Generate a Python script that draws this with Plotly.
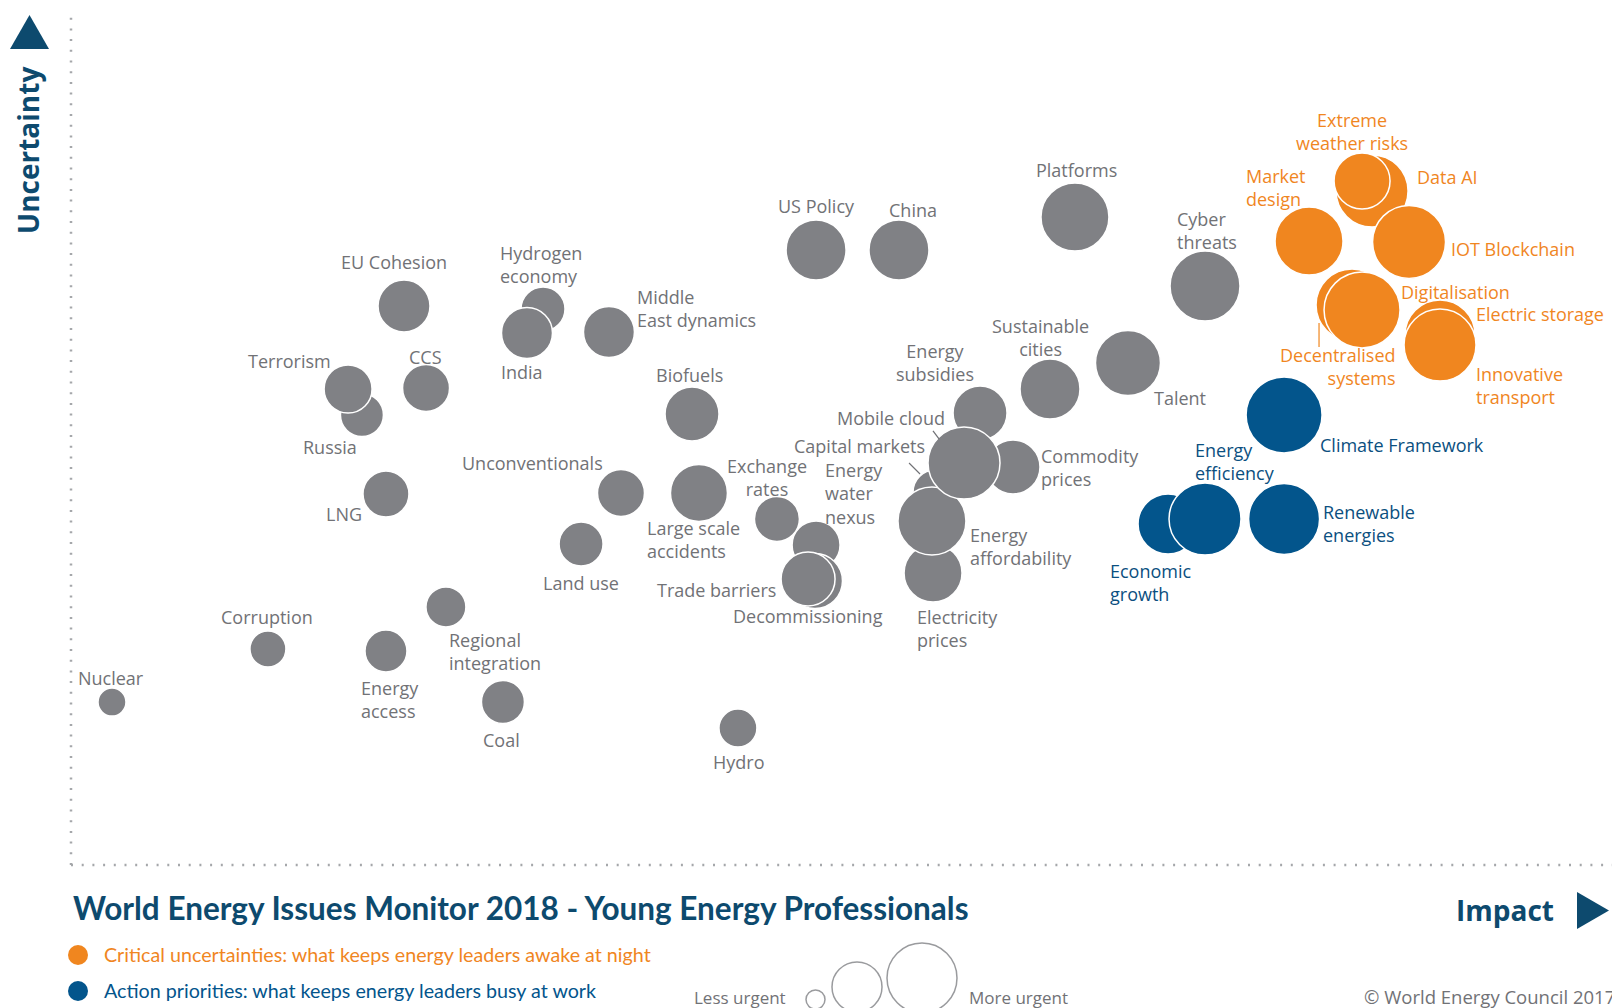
import plotly.graph_objects as go

# ---------------- data ----------------
gray_names = ["Nuclear", "Corruption", "Energy access", "Regional integration", "Coal", "Hydro",
              "LNG", "Russia", "Terrorism", "CCS", "EU Cohesion", "Hydrogen economy", "India",
              "Middle East dynamics", "Biofuels", "Unconventionals", "Large scale accidents",
              "Land use", "Exchange rates", "Energy water nexus", "Decommissioning", "Trade barriers",
              "US Policy", "China", "Platforms", "Cyber threats", "Talent", "Sustainable cities",
              "Electricity prices", "Capital markets", "Energy affordability", "Energy subsidies",
              "Commodity prices", "Mobile cloud"]
gray_impact = [2.66, 12.78, 20.44, 24.33, 28.03, 43.28, 20.44, 18.88, 17.98, 23.04, 21.61, 30.63,
               29.59, 34.91, 40.30, 35.69, 40.75, 33.10, 45.81, 48.35, 48.28, 47.83, 48.35, 53.73,
               65.15, 73.59, 68.59, 63.53, 55.94, 56.07, 55.87, 58.99, 61.13, 57.95]
gray_uncertainty = [19.06, 25.26, 25.03, 30.18, 19.06, 16.02, 43.39, 52.63, 55.67, 55.79, 65.38,
                    65.03, 62.22, 62.34, 52.75, 43.51, 43.51, 37.54, 40.47, 37.43, 33.22, 33.45,
                    71.93, 71.93, 75.79, 67.72, 58.71, 55.67, 34.15, 43.63, 40.23, 52.87, 46.55, 47.02]
gray_urgency = [2.8, 3.6, 4.2, 4.0, 4.3, 3.8, 4.6, 4.3, 4.8, 4.7, 5.2, 4.4, 5.1, 5.1, 5.4, 4.7, 5.7,
                4.4, 4.5, 4.8, 5.5, 5.4, 6.0, 6.0, 6.8, 7.0, 6.5, 6.0, 5.8, 4.4, 6.8, 5.4, 5.4, 7.2]

orange_names = ["Data AI", "Extreme weather risks", "Market design", "IOT Blockchain",
                "Decentralised systems", "Digitalisation", "Electric storage", "Innovative transport"]
orange_impact = [84.43, 83.78, 80.34, 86.83, 83.13, 83.78, 88.84, 88.84]
orange_uncertainty = [78.83, 80.00, 72.98, 72.87, 65.50, 64.91, 61.99, 60.82]
orange_urgency = [7.2, 5.6, 6.8, 7.3, 7.2, 7.6, 7.0, 7.2]

blue_names = ["Climate Framework", "Economic growth", "Energy efficiency", "Renewable energies"]
blue_impact = [78.72, 71.19, 73.59, 78.72]
blue_uncertainty = [52.63, 39.88, 40.47, 40.47]
blue_urgency = [7.6, 6.0, 7.2, 7.1]

label_text = {
    "Energy access": "Energy<br>access", "Regional integration": "Regional<br>integration",
    "Hydrogen economy": "Hydrogen<br>economy", "Middle East dynamics": "Middle<br>East dynamics",
    "Large scale accidents": "Large scale<br>accidents", "Exchange rates": "Exchange<br>rates",
    "Energy water nexus": "Energy<br>water<br>nexus", "Cyber threats": "Cyber<br>threats",
    "Sustainable cities": "Sustainable<br>cities", "Energy subsidies": "Energy<br>subsidies",
    "Commodity prices": "Commodity<br>prices", "Energy affordability": "Energy<br>affordability",
    "Electricity prices": "Electricity<br>prices", "Extreme weather risks": "Extreme<br>weather risks",
    "Market design": "Market<br>design", "Decentralised systems": "Decentralised<br>systems",
    "Innovative transport": "Innovative<br>transport", "Economic growth": "Economic<br>growth",
    "Energy efficiency": "Energy<br>efficiency", "Renewable energies": "Renewable<br>energies",
}

# ---------------- layout / style ----------------
PAGE_OFF = 8                       # default body margin of the html page
FIG_W, FIG_H = 1620 - PAGE_OFF, 1008 - PAGE_OFF
PLOT_X0, PLOT_X1, PLOT_Y0, PLOT_Y1 = 71, 1612, 10, 865   # plot area in page pixels
ML, MT = PLOT_X0 - PAGE_OFF, PLOT_Y0 - PAGE_OFF
MR, MB = 1620 - PLOT_X1, 1008 - PLOT_Y1
PW, PH = PLOT_X1 - PLOT_X0, PLOT_Y1 - PLOT_Y0
XMAX, YMAX = 100, 100

GRAY, ORANGE, BLUE = "#808185", "#F0861F", "#03558C"
GRAY_TXT, BLUE_TXT, NAVY = "#717276", "#0B4F80", "#0D4A6E"
LABEL_FONT = "Open Sans"
LABEL_SIZE = 18
ANCHOR_NUDGE = {"left": -2, "center": 0, "right": 2}

# label offsets in pixels from bubble centre: (dx, dy-down, anchor)
label_pos = {
    "Nuclear": (-34, -24, "left"), "Corruption": (-1, -32, "center"),
    "Energy access": (-25, 49, "left"), "Regional integration": (3, 45, "left"),
    "Coal": (-1, 38, "center"), "Hydro": (1, 34, "center"), "LNG": (-42, 20, "center"),
    "Terrorism": (-59, -28, "center"), "Russia": (-32, 32, "center"), "CCS": (-1, -31, "center"),
    "EU Cohesion": (-10, -44, "center"), "Hydrogen economy": (-43, -44, "left"),
    "India": (-5, 39, "center"), "Middle East dynamics": (28, -23, "left"),
    "Biofuels": (-3, -39, "center"), "Unconventionals": (-88, -30, "center"),
    "Large scale accidents": (-52, 47, "left"), "Land use": (0, 39, "center"),
    "Exchange rates": (-10, -41, "center"), "Energy water nexus": (9, -51, "left"),
    "Decommissioning": (-7, 35, "center"), "Trade barriers": (-92, 11, "center"),
    "US Policy": (0, -44, "center"), "China": (14, -40, "center"), "Platforms": (2, -47, "center"),
    "Cyber threats": (-28, -55, "left"), "Talent": (52, 35, "center"),
    "Sustainable cities": (-10, -52, "center"), "Energy subsidies": (-45, -50, "center"),
    "Commodity prices": (28, 0, "left"), "Capital markets": (-76, -46, "center"),
    "Energy affordability": (38, 25, "left"), "Electricity prices": (-16, 55, "left"),
    "Mobile cloud": (-73, -45, "center"),
    "Data AI": (45, -14, "left"), "Extreme weather risks": (-10, -50, "center"),
    "Market design": (-63, -54, "left"), "IOT Blockchain": (42, 7, "left"),
    "Decentralised systems": (44, 62, "right"), "Digitalisation": (39, -18, "left"),
    "Electric storage": (36, -21, "left"), "Innovative transport": (36, 41, "left"),
    "Climate Framework": (36, 30, "left"), "Economic growth": (-58, 58, "left"),
    "Energy efficiency": (-10, -57, "left"), "Renewable energies": (39, 5, "left"),
}
# leader lines: name -> ((dx0, dy0), (dx1, dy1)) pixel offsets from bubble centre
leaders = {
    "Mobile cloud": ((-31, -32), (-25, -24)),
    "Capital markets": ((-26, -29), (-15, -18)),
    "Decentralised systems": ((-33, 18), (-33, 42)),
}


def P(X, Y):
    """page pixel position -> paper coordinates"""
    return (X - PLOT_X0) / PW, (PLOT_Y1 - Y) / PH


fig = go.Figure()
groups = [
    (gray_names, gray_impact, gray_uncertainty, gray_urgency, GRAY, GRAY_TXT),
    (orange_names, orange_impact, orange_uncertainty, orange_urgency, ORANGE, ORANGE),
    (blue_names, blue_impact, blue_uncertainty, blue_urgency, BLUE, BLUE_TXT),
]
annotations = []
shapes = []
for names, xs, ys, us, col, tcol in groups:
    fig.add_trace(go.Scatter(
        x=xs, y=ys, mode="markers", text=names, hoverinfo="text",
        marker=dict(size=us, sizemode="diameter", sizeref=0.1, color=col,
                    opacity=1, line=dict(color="white", width=1.5)),
        cliponaxis=False, showlegend=False))
    for n, x, y in zip(names, xs, ys):
        dx, dy, anc = label_pos[n]
        annotations.append(dict(
            x=x, y=y, xref="x", yref="y", xshift=dx + ANCHOR_NUDGE[anc], yshift=-dy,
            xanchor=anc, yanchor="middle",
            align=anc, text=label_text.get(n, n), showarrow=False,
            font=dict(family=LABEL_FONT, size=LABEL_SIZE, color=tcol)))
        if n in leaders:
            (a0, b0), (a1, b1) = leaders[n]
            shapes.append(dict(type="line", xref="x", yref="y",
                               x0=x + a0 * XMAX / PW, y0=y - b0 * YMAX / PH,
                               x1=x + a1 * XMAX / PW, y1=y - b1 * YMAX / PH,
                               line=dict(color=tcol, width=1.2)))

# dotted axes
DOT = "2px,8.7px"
shapes.append(dict(type="line", xref="paper", yref="paper", x0=0, x1=0, y0=0, y1=1,
                   line=dict(color="#A5A7AA", width=2.5, dash=DOT)))
shapes.append(dict(type="line", xref="paper", yref="paper", x0=0, x1=1, y0=0, y1=0,
                   line=dict(color="#A5A7AA", width=2.5, dash=DOT)))


def tri(points, color):
    pts = [P(*p) for p in points]
    path = "M " + " L ".join(f"{a},{b}" for a, b in pts) + " Z"
    return dict(type="path", xref="paper", yref="paper", path=path,
                fillcolor=color, line=dict(width=0))


shapes.append(tri([(10, 49), (49, 49), (29.5, 15)], NAVY))
shapes.append(tri([(1577, 892), (1577, 929), (1609, 910.5)], NAVY))


def circ(cx, cy, r, fill=None, line=None):
    x0, y0 = P(cx - r, cy + r)
    x1, y1 = P(cx + r, cy - r)
    d = dict(type="circle", xref="paper", yref="paper", x0=x0, y0=y0, x1=x1, y1=y1)
    if fill:
        d["fillcolor"] = fill
        d["line"] = dict(width=0)
    else:
        d["line"] = dict(color=line, width=1.5)
    return d


shapes.append(circ(78, 955, 10, fill=ORANGE))
shapes.append(circ(78, 991, 10, fill=BLUE))
shapes.append(circ(815.5, 999.5, 9.5, line="#9A9B9E"))
shapes.append(circ(857, 987, 25, line="#9A9B9E"))
shapes.append(circ(922, 978, 35, line="#9A9B9E"))


def text_px(X, Y, txt, size, color, anchor="left", family=LABEL_FONT, weight="normal", angle=0):
    x, y = P(X, Y)
    annotations.append(dict(x=x, y=y, xref="paper", yref="paper", text=txt, showarrow=False,
                            xanchor=anchor, yanchor="middle", textangle=angle,
                            font=dict(family=family, size=size, color=color, weight=weight)))


text_px(71, 908, "World Energy Issues Monitor 2018 - Young Energy Professionals", 31.5, NAVY,
        family="Lato", weight="bold")
text_px(1556, 910, "Impact", 28, NAVY, anchor="right", weight="bold")
text_px(28, 151, "Uncertainty", 28, NAVY, anchor="center", weight="bold", angle=-90)
text_px(102, 955, "Critical uncertainties: what keeps energy leaders awake at night", 19.7, ORANGE,
        family="Lato")
text_px(102, 990, "Action priorities: what keeps energy leaders busy at work", 19.7, BLUE,
        family="Lato")
text_px(788, 998, "Less urgent", 17, GRAY_TXT, anchor="right")
text_px(967, 998, "More urgent", 17, GRAY_TXT)
text_px(1617, 996, "© World Energy Council 2017", 18.5, GRAY_TXT, anchor="right")

fig.update_layout(
    width=FIG_W, height=FIG_H, margin=dict(l=ML, r=MR, t=MT, b=MB, pad=0),
    paper_bgcolor="white", plot_bgcolor="white",
    xaxis=dict(range=[0, XMAX], visible=False, fixedrange=True),
    yaxis=dict(range=[0, YMAX], visible=False, fixedrange=True),
    shapes=shapes, annotations=annotations, hovermode="closest",
)
fig.write_html("out.html", config={"displayModeBar": False})
